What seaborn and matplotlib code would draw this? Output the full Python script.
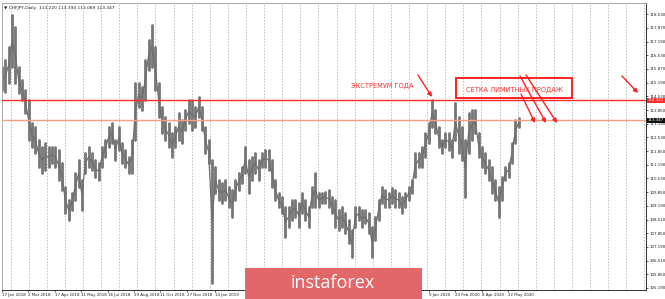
import numpy as np
import pandas as pd
import matplotlib
matplotlib.use("Agg")
import matplotlib.pyplot as plt
from matplotlib.patches import Rectangle
import seaborn as sns

# ---------------- data ----------------
symbol_title = "\u25bc CHFJPY,Daily  113.220 113.394 113.089 113.347"

# high / low of price, one sample per ~4 trading days, from 17 Jan 2018
high = [115.95, 116.29, 116.92, 118.48, 117.90, 115.95, 115.32, 114.83, 114.34, 113.22,
        113.03, 112.39, 112.05, 112.25, 112.05, 112.05, 112.05, 111.91, 111.27, 110.11,
        109.47, 109.81, 110.79, 111.42, 110.45, 111.76, 112.05, 111.76, 111.42, 111.27,
        112.05, 112.39, 113.03, 113.22, 112.39, 113.03, 112.25, 111.91, 111.57,
        112.39, 115.17, 115.17, 114.98, 116.29, 117.26, 117.99, 116.92, 115.17, 114.00,
        113.51, 113.22, 112.73, 113.03, 113.71, 113.37, 113.86, 114.34, 114.34, 114.00,
        114.49, 114.00, 113.03, 112.39, 111.42, 111.08, 110.45, 110.30, 110.45, 110.11,
        109.96, 110.45, 110.79, 111.08, 112.05, 111.42, 111.57, 111.76, 111.42,
        111.76, 111.91, 111.91, 111.42, 110.45, 109.81, 109.62, 109.13, 109.13, 109.47,
        109.47, 109.33, 109.81, 109.47, 109.13, 110.11, 110.79, 109.81, 109.81, 109.86,
        109.96, 109.62, 109.47, 108.99, 109.13, 108.84, 108.50, 108.01, 109.13, 109.13,
        108.99, 108.99, 108.84, 108.16, 108.64, 109.47, 110.11, 109.96, 109.81,
        110.06, 109.96, 109.81, 109.62, 109.81, 110.11, 110.45, 111.76, 111.76, 112.05,
        112.73, 113.22, 114.34, 113.86, 113.03, 112.39, 112.73, 112.73, 112.39, 114.20,
        113.51, 113.03, 112.39, 113.71, 113.86, 113.86, 112.73, 112.05, 111.76, 111.42,
        111.08, 110.45, 110.11, 110.59, 111.08, 111.27, 112.25, 113.37, 113.46]
low = [114.83, 114.73, 115.17, 115.95, 115.17, 114.68, 114.34, 113.71, 112.39, 112.05,
       111.76, 111.08, 110.79, 110.93, 111.08, 111.27, 111.08, 110.45, 109.96, 108.84,
       108.50, 108.99, 109.47, 110.11, 108.99, 110.79, 111.08, 110.93, 110.59, 110.45,
       111.08, 111.57, 112.05, 112.25, 111.42, 111.91, 111.27, 111.08, 110.79,
       110.79, 112.39, 114.00, 113.86, 114.34, 115.80, 115.95, 114.83, 113.51, 112.73,
       112.39, 112.05, 111.57, 112.05, 112.39, 112.25, 112.88, 113.22, 112.88, 113.03,
       113.51, 112.88, 111.76, 111.27, 105.43, 109.81, 109.47, 109.33, 109.47, 109.13,
       108.64, 109.47, 109.96, 110.30, 110.79, 109.81, 110.45, 110.79, 110.45,
       111.08, 111.08, 110.93, 110.11, 109.47, 109.13, 108.84, 107.67, 108.16, 108.50,
       108.64, 108.16, 108.84, 108.50, 108.16, 109.13, 109.13, 109.13, 109.33, 109.33,
       109.13, 108.84, 108.16, 108.01, 108.16, 107.86, 107.38, 106.70, 108.16, 108.50,
       108.16, 108.35, 107.86, 106.70, 107.52, 108.50, 109.33, 109.13, 109.13,
       109.33, 109.13, 109.13, 108.84, 109.13, 109.47, 109.81, 110.59, 111.08, 111.08,
       111.57, 112.25, 113.03, 112.73, 112.05, 111.76, 112.05, 111.91, 111.57, 112.39,
       111.76, 111.42, 109.62, 111.76, 112.39, 112.73, 111.57, 111.08, 110.79, 110.45,
       109.81, 109.47, 108.64, 109.47, 110.45, 110.59, 111.27, 112.25, 113.03]

start_date = "2018-01-17"
date_labels = ["17 Jan 2018", "2 Mar 2018", "17 Apr 2018", "31 May 2018", "16 Jul 2018",
               "29 Aug 2018", "11 Oct 2018", "27 Nov 2018", "14 Jan 2019",
               "9 Jan 2020", "24 Feb 2020", "8 Apr 2020", "22 May 2020"]
date_values = ["2018-01-17", "2018-03-02", "2018-04-17", "2018-05-31", "2018-07-16",
               "2018-08-29", "2018-10-11", "2018-11-27", "2019-01-14",
               "2020-01-09", "2020-02-24", "2020-04-08", "2020-05-22"]

price_ticks = [118.530, 117.870, 117.190, 116.530, 115.870, 115.190, 114.530, 113.850,
               113.190, 112.530, 111.850, 111.190, 110.530, 109.850, 109.190, 108.510,
               107.850, 107.190, 106.510, 105.850, 105.190]
extreme_level = 114.322
last_close = 113.347

note_extreme = "ЭКСТРЕМУМ ГОДА"
note_grid = "СЕТКА ЛИМИТНЫХ ПРОДАЖ"
logo_text = "instaforex"

# ---------------- layout helpers ----------------
W, H = 665, 299
def fx(px):
    return px / W
def fy(py):
    return 1 - py / H

DAYS_PER_SAMPLE = 4.03
SMALL = 2.9

sns.set_theme(style="white")
plt.rcParams["font.family"] = ["DejaVu Sans"]

fig = plt.figure(figsize=(W / 100, H / 100), dpi=100)
fig.patch.set_facecolor("white")
ax = fig.add_axes([fx(1.5), fy(290), fx(646) - fx(1.5), fy(3) - fy(290)])
ax.set_facecolor("white")

n = len(high)
xs = np.arange(n) * DAYS_PER_SAMPLE
df = pd.DataFrame({
    "day": np.concatenate([xs, xs]),
    "price": np.concatenate([high, low]),
    "bar": np.concatenate([np.arange(n), np.arange(n)]),
})
mid = (np.array(high) + np.array(low)) / 2

# vertical grid (dashed)
for g in np.arange(10.3, 780, 21.9):
    ax.axvline(g, color="#a8a8a8", lw=0.5, ls=(0, (2.2, 2.2)), zorder=0)

sns.lineplot(data=df, x="day", y="price", units="bar", estimator=None, sort=False,
             color="#767676", linewidth=2.0, ax=ax, legend=False, zorder=2)
sns.lineplot(x=xs, y=mid, color="#6e6e6e", linewidth=0.9, ax=ax, legend=False, zorder=2)

ax.axhline(extreme_level, color="#ff2a2a", lw=1.0, zorder=3)
ax.axhline(last_close, color="#f6a07e", lw=1.0, zorder=3)

ax.set_xlim(-0.6, 778.7)
ax.set_ylim(105.089, 119.066)
ax.set_xlabel("")
ax.set_ylabel("")

# axes styling
for side in ["left", "top"]:
    ax.spines[side].set_color("#9a9a9a")
    ax.spines[side].set_linewidth(0.6)
for side in ["right", "bottom"]:
    ax.spines[side].set_color("#303030")
    ax.spines[side].set_linewidth(0.7)

ax.yaxis.tick_right()
ax.set_yticks(price_ticks)
ax.set_yticklabels([f"{v:.3f}" for v in price_ticks])
tick_pos = [np.busday_count(start_date, d) for d in date_values]
ax.set_xticks(tick_pos)
ax.set_xticklabels(date_labels, ha="left")
ax.tick_params(axis="both", which="both", labelsize=SMALL, length=1.5, width=0.5,
               pad=0.8, colors="#202020", direction="out")
ax.tick_params(axis="y", right=True, left=False)
ax.tick_params(axis="x", bottom=True)

# price labels on the axis
ax.text(1.003, extreme_level, f"{extreme_level:.3f}", transform=ax.get_yaxis_transform(),
        ha="left", va="center", fontsize=SMALL, color="white", zorder=10, clip_on=False,
        bbox=dict(boxstyle="square,pad=0.2", fc="#ff2a2a", ec="none"))
ax.text(1.003, last_close, f"{last_close:.3f}", transform=ax.get_yaxis_transform(),
        ha="left", va="center", fontsize=SMALL, color="white", zorder=10, clip_on=False,
        bbox=dict(boxstyle="square,pad=0.2", fc="#111111", ec="none"))

ax.text(0.004, 0.99, symbol_title, transform=ax.transAxes, ha="left", va="top",
        fontsize=3.2, color="#202020")

# annotations
red = "#ff2020"
def arrow(x0, y0, x1, y1):
    ax.annotate("", xy=(fx(x1), fy(y1)), xytext=(fx(x0), fy(y0)),
                xycoords="figure fraction", textcoords="figure fraction",
                arrowprops=dict(arrowstyle="-|>", color=red, lw=1.0,
                                mutation_scale=6, shrinkA=0, shrinkB=0))

fig.text(fx(382), fy(86), note_extreme, ha="center", va="center",
         color="#ff3030", fontsize=4.8)
arrow(418, 75, 432, 97)

fig.patches.append(Rectangle((fx(456), fy(98)), fx(572) - fx(456), fy(78) - fy(98),
                             transform=fig.transFigure, fill=False, ec=red, lw=1.4,
                             zorder=5))
fig.text(fx(514), fy(90), note_grid, ha="center", va="center",
         color="#ff3030", fontsize=4.8, zorder=6)
arrow(521, 94, 535, 123)
arrow(520, 76, 546, 123)
arrow(526, 75, 557, 123)
arrow(622, 76, 638, 93)

# logo overlay
fig.patches.append(Rectangle((fx(245), 0), fx(422) - fx(245), fy(268),
                             transform=fig.transFigure, fc="#e26769", ec="none",
                             zorder=20))
fig.text(fx(333), fy(283), logo_text, ha="center", va="center", color="white",
         fontsize=13, family=["Open Sans", "DejaVu Sans"], weight="normal", zorder=21)

fig.savefig("out.png", dpi=100, facecolor="white")
